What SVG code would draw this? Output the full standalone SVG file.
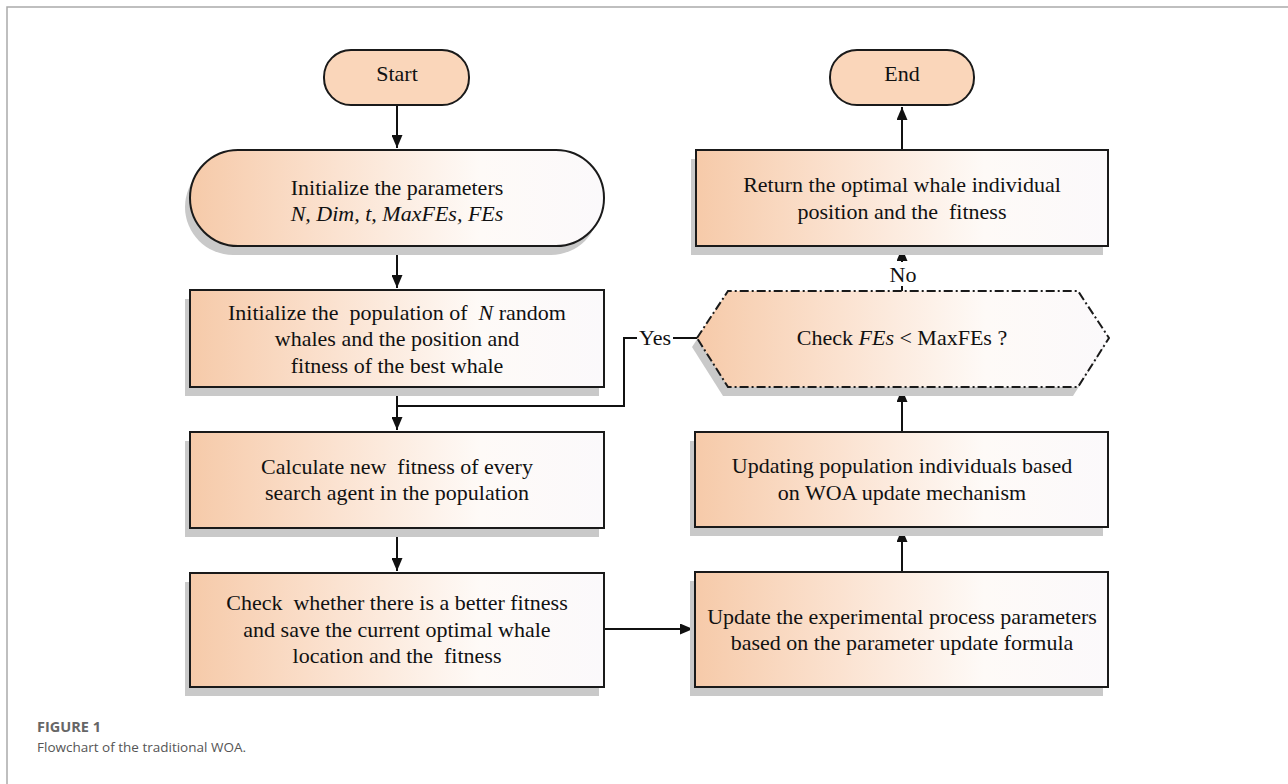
<svg xmlns="http://www.w3.org/2000/svg" width="1288" height="784" viewBox="0 0 1288 784">
<style>
.t{font-family:"Liberation Serif","Times New Roman",serif;font-size:22px;fill:#111;text-anchor:middle;white-space:pre}
.i{font-style:italic}
.box{stroke:#1a1a1a;stroke-width:2;fill:url(#g)}
.sh{fill:#c9c9c9}
.term{stroke:#1a1a1a;stroke-width:2;fill:#fad6ba}
.c{fill:none;stroke:#111;stroke-width:2}
.cap1{font-family:"Open Sans","Liberation Sans",sans-serif;font-size:14.5px;font-weight:bold;fill:#666}
.cap2{font-family:"Open Sans","Liberation Sans",sans-serif;font-size:13.5px;fill:#555}
</style>
<defs>
<linearGradient id="g" x1="0" y1="0" x2="1" y2="0">
<stop offset="0" stop-color="#f6caa9"/>
<stop offset="0.35" stop-color="#fbe2d0"/>
<stop offset="0.7" stop-color="#fefaf7"/>
<stop offset="1" stop-color="#fbf9fb"/>
</linearGradient>
<marker id="a" viewBox="0 0 10 10" refX="10" refY="5" markerWidth="6.5" markerHeight="5.5" preserveAspectRatio="none" orient="auto" markerUnits="strokeWidth">
<path d="M0,0 L10,5 L0,10 z" fill="#111"/>
</marker>
</defs>
<rect width="1288" height="784" fill="#fff"/>
<path d="M7,784 V7 H1288" fill="none" stroke="#aaa" stroke-width="1.5"/>

<g id="connectors">
<path class="c" d="M397,105 V148" marker-end="url(#a)"/>
<path class="c" d="M397,246 V288" marker-end="url(#a)"/>
<path class="c" d="M397,387 V430" marker-end="url(#a)"/>
<path class="c" d="M697,338 H624 V406 H397"/>
<path class="c" d="M397,528 V571" marker-end="url(#a)"/>
<path class="c" d="M604,629 H693" marker-end="url(#a)"/>
<path class="c" d="M902,572 V529" marker-end="url(#a)"/>
<path class="c" d="M902,432 V389" marker-end="url(#a)"/>
<path class="c" d="M902,291 V248" marker-end="url(#a)"/>
<path class="c" d="M902,150 V107" marker-end="url(#a)"/>
<rect x="637" y="326" width="36" height="22" fill="#fff"/>
<text class="t" x="655" y="345">Yes</text>
<rect x="889" y="262" width="28" height="24" fill="#fff"/>
<text class="t" x="903" y="282">No</text>
</g>

<g id="start">
<rect class="term" x="324" y="50" width="145" height="55" rx="27"/>
<text class="t" x="397" y="81">Start</text>
</g>

<g id="init-params">
<rect class="sh" x="185" y="159" width="414" height="96" rx="48"/>
<rect class="box" x="190" y="150" width="414" height="96" rx="48"/>
<text class="t" x="397" y="195">Initialize the parameters</text>
<text class="t i" x="397" y="221">N, Dim, t, MaxFEs, FEs</text>
</g>

<g id="init-pop">
<rect class="sh" x="185" y="299" width="414" height="97"/>
<rect class="box" x="190" y="290" width="414" height="97"/>
<text class="t" x="397" y="320">Initialize the  population of  <tspan class="i">N</tspan> random</text>
<text class="t" x="397" y="346">whales and the position and</text>
<text class="t" x="397" y="373">fitness of the best whale</text>
</g>

<g id="calc">
<rect class="sh" x="185" y="441" width="414" height="96"/>
<rect class="box" x="190" y="432" width="414" height="96"/>
<text class="t" x="397" y="474">Calculate new  fitness of every</text>
<text class="t" x="397" y="500">search agent in the population</text>
</g>

<g id="check-better">
<rect class="sh" x="185" y="582" width="414" height="114"/>
<rect class="box" x="190" y="573" width="414" height="114"/>
<text class="t" x="397" y="610">Check  whether there is a better fitness</text>
<text class="t" x="397" y="637">and save the current optimal whale</text>
<text class="t" x="397" y="663">location and the  fitness</text>
</g>

<g id="update-params">
<rect class="sh" x="690" y="581" width="413" height="115"/>
<rect class="box" x="695" y="572" width="413" height="115"/>
<text class="t" x="902" y="624">Update the experimental process parameters</text>
<text class="t" x="902" y="650">based on the parameter update formula</text>
</g>

<g id="update-pop">
<rect class="sh" x="690" y="441" width="413" height="95"/>
<rect class="box" x="695" y="432" width="413" height="95"/>
<text class="t" x="902" y="473">Updating population individuals based</text>
<text class="t" x="902" y="500">on WOA update mechanism</text>
</g>

<g id="check-fes">
<path class="sh" d="M692,347 L723,300 H1073 L1104,347 L1073,396 H723 Z"/>
<path d="M697,338 L728,291 H1078 L1109,338 L1078,387 H728 Z" fill="url(#g)" stroke="#1a1a1a" stroke-width="2" stroke-dasharray="9 3 2 3"/>
<text class="t" x="902" y="345">Check <tspan class="i">FEs</tspan> &lt; MaxFEs ?</text>
</g>

<g id="return">
<rect class="sh" x="691" y="159" width="412" height="96"/>
<rect class="box" x="696" y="150" width="412" height="96"/>
<text class="t" x="902" y="192">Return the optimal whale individual</text>
<text class="t" x="902" y="219">position and the  fitness</text>
</g>

<g id="end">
<rect class="term" x="830" y="50" width="144" height="55" rx="27"/>
<text class="t" x="902" y="81">End</text>
</g>

<g id="caption">
<text class="cap1" x="37" y="732">FIGURE 1</text>
<text class="cap2" x="37" y="752">Flowchart of the traditional WOA.</text>
</g>
</svg>
